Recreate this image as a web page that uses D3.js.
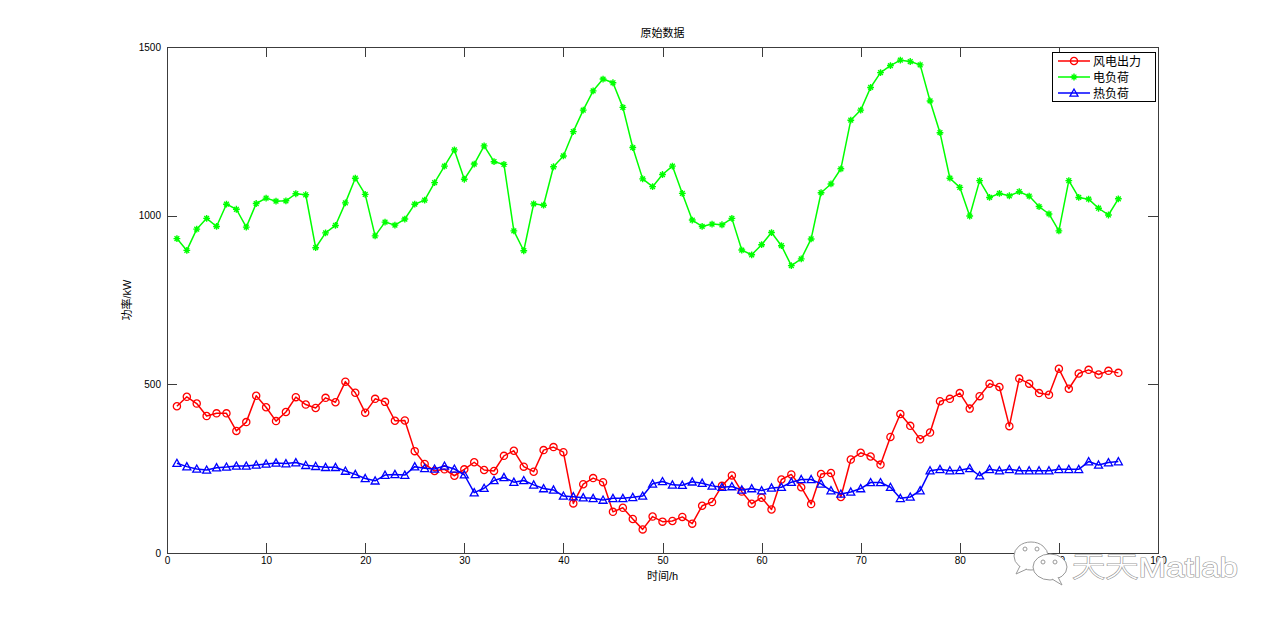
<!DOCTYPE html>
<html>
<head>
<meta charset="utf-8">
<script src="https://cdn.jsdelivr.net/npm/d3@7/dist/d3.min.js"></script>
<style>
  html, body { margin: 0; padding: 0; background: #ffffff; }
  svg { display: block; }
  text { font-family: "Liberation Sans", Arial, "Noto Sans CJK SC", sans-serif; }
</style>
</head>
<body>
<svg id="chart" width="1280" height="621"></svg>
<script>
// ---------------- data ----------------
const titleText = "原始数据";
const xLabel = "时间/h";
const yLabel = "功率/kW";
const seriesNames = ["风电出力", "电负荷", "热负荷"];
const xTicks = [0, 10, 20, 30, 40, 50, 60, 70, 80, 90, 100];
const yTicks = [0, 500, 1000, 1500];

const windPower = [435, 463, 443, 406, 414, 414, 362, 388, 466, 432, 391, 418, 462, 440, 430, 460, 447, 508, 475, 416,
  457, 448, 392, 393, 302, 264, 243, 248, 229, 248, 269, 246, 243, 288, 303, 256, 241, 305, 314, 299,
  147, 204, 222, 210, 122, 134, 101, 70, 108, 93, 95, 107, 87, 140, 151, 199, 230, 182, 146, 164,
  129, 218, 233, 195, 145, 234, 237, 166, 277, 297, 286, 262, 344, 412, 377, 337, 357, 450, 457, 474,
  428, 465, 502, 492, 376, 517, 502, 474, 469, 546, 487, 532, 543, 529, 540, 534];

const elecLoad = [932, 897, 960, 992, 968, 1034, 1019, 966, 1036, 1052, 1043, 1044, 1065, 1062, 905, 949, 971, 1038, 1111, 1063,
  940, 981, 972, 990, 1034, 1046, 1098, 1147, 1195, 1108, 1153, 1207, 1160, 1152, 955, 896, 1035, 1031, 1145, 1177,
  1249, 1313, 1370, 1405, 1394, 1321, 1202, 1109, 1086, 1122, 1147, 1066, 987, 968, 975, 973, 992, 898, 884, 914,
  950, 911, 852, 872, 931, 1068, 1094, 1139, 1283, 1313, 1380, 1424, 1445, 1461, 1457, 1447, 1340, 1246, 1111, 1084,
  999, 1104, 1054, 1066, 1059, 1071, 1058, 1027, 1005, 955, 1104, 1054, 1049, 1022, 1002, 1050];

const heatLoad = [266, 256, 249, 246, 253, 255, 258, 258, 261, 264, 267, 265, 268, 260, 257, 254, 254, 243, 233, 221,
  214, 231, 233, 231, 256, 251, 249, 258, 249, 232, 179, 192, 215, 224, 210, 215, 202, 191, 187, 169,
  167, 164, 162, 157, 162, 162, 165, 169, 205, 212, 202, 201, 211, 207, 199, 195, 197, 187, 191, 185,
  193, 195, 210, 218, 218, 205, 185, 175, 181, 191, 209, 209, 195, 162, 166, 185, 244, 248, 244, 245,
  251, 229, 248, 244, 248, 244, 244, 244, 244, 248, 248, 248, 271, 261, 268, 271];

const seriesColors = ["#ff0000", "#00ff00", "#0000ff"];
const seriesMarkers = ["circle", "star", "triangle"];

// ---------------- layout ----------------
const svg = d3.select("#chart");
const L = 167, R = 1158, T = 47, B = 553;
const axisColor = "#3c3c3c";

const x = d3.scaleLinear().domain([0, 100]).range([L, R]);
const y = d3.scaleLinear().domain([0, 1500]).range([B, T]);

// axes box
const g = svg.append("g");
g.append("rect").attr("x", L).attr("y", T).attr("width", R - L).attr("height", B - T)
  .attr("fill", "#ffffff").attr("stroke", axisColor).attr("stroke-width", 1)
  .attr("shape-rendering", "crispEdges");

const xAxisB = d3.axisBottom(x).tickValues(xTicks).tickSize(-10).tickPadding(4).tickFormat(d3.format("d"));
const gxb = g.append("g").attr("transform", `translate(0,${B})`).call(xAxisB);
const xAxisT = d3.axisTop(x).tickValues(xTicks).tickSize(-10).tickFormat("");
const gxt = g.append("g").attr("transform", `translate(0,${T})`).call(xAxisT);
const yAxisL = d3.axisLeft(y).tickValues(yTicks).tickSize(-10).tickPadding(6).tickFormat(d3.format("d"));
const gyl = g.append("g").attr("transform", `translate(${L},0)`).call(yAxisL);
const yAxisR = d3.axisRight(y).tickValues(yTicks).tickSize(-10).tickFormat("");
const gyr = g.append("g").attr("transform", `translate(${R},0)`).call(yAxisR);

[gxb, gxt, gyl, gyr].forEach(a => {
  a.select(".domain").remove();
  a.selectAll(".tick line").attr("stroke", axisColor).attr("shape-rendering", "crispEdges");
  a.selectAll(".tick text").attr("fill", "#000").attr("font-size", "10px")
    .attr("font-family", "Liberation Sans, Arial, sans-serif");
});
gyl.selectAll(".tick text").attr("dy", "0.32em");

svg.append("text").attr("x", (L + R) / 2).attr("y", 37).attr("text-anchor", "middle")
  .attr("font-size", "11px").attr("font-family", "Noto Sans CJK SC, sans-serif").text(titleText);
svg.append("text").attr("x", (L + R) / 2).attr("y", 580).attr("text-anchor", "middle")
  .attr("font-size", "11px").attr("font-family", "Noto Sans CJK SC, sans-serif").text(xLabel);
svg.append("text").attr("transform", `translate(131,${(T + B) / 2}) rotate(-90)`).attr("text-anchor", "middle")
  .attr("font-size", "11px").attr("font-family", "Noto Sans CJK SC, sans-serif").text(yLabel);

// ---------------- series ----------------
const allSeries = [windPower, elecLoad, heatLoad];

function drawMarker(sel, type, color) {
  if (type === "circle") {
    sel.append("circle").attr("r", 3.6).attr("fill", "none").attr("stroke", color).attr("stroke-width", 1.3);
  } else if (type === "star") {
    const s = 3.4;
    sel.append("path")
      .attr("d", `M${-s},0L${s},0M0,${-s}L0,${s}M${-s*0.7},${-s*0.7}L${s*0.7},${s*0.7}M${-s*0.7},${s*0.7}L${s*0.7},${-s*0.7}`)
      .attr("stroke", color).attr("stroke-width", 1.4).attr("fill", "none");
  } else {
    const s = 4;
    sel.append("path").attr("d", `M0,${-s}L${s},${s*0.8}L${-s},${s*0.8}Z`)
      .attr("fill", "none").attr("stroke", color).attr("stroke-width", 1.3);
  }
}

const line = d3.line().x((d, i) => x(i + 1)).y(d => y(d));

allSeries.forEach((vals, k) => {
  const sg = svg.append("g");
  sg.append("path").datum(vals).attr("d", line).attr("fill", "none")
    .attr("stroke", seriesColors[k]).attr("stroke-width", 1.5).attr("stroke-linejoin", "round");
  const pts = sg.selectAll("g.pt").data(vals).enter().append("g").attr("class", "pt")
    .attr("transform", (d, i) => `translate(${x(i + 1)},${y(d)})`);
  pts.each(function () { drawMarker(d3.select(this), seriesMarkers[k], seriesColors[k]); });
});

// ---------------- legend ----------------
const lg = svg.append("g");
const lgX = 1052, lgY = 52, lgW = 103, lgH = 49;
lg.append("rect").attr("x", lgX + 0.5).attr("y", lgY + 0.5).attr("width", lgW).attr("height", lgH)
  .attr("fill", "#fff").attr("stroke", "#000").attr("stroke-width", 1);
seriesNames.forEach((name, k) => {
  const ry = lgY + 9 + k * 16;
  const row = lg.append("g");
  row.append("line").attr("x1", lgX + 6).attr("x2", lgX + 38).attr("y1", ry).attr("y2", ry)
    .attr("stroke", seriesColors[k]).attr("stroke-width", 1.5);
  const m = row.append("g").attr("transform", `translate(${lgX + 22},${ry})`);
  drawMarker(m, seriesMarkers[k], seriesColors[k]);
  row.append("text").attr("x", lgX + 41).attr("y", ry + 4.5).attr("font-size", "12px")
    .attr("font-family", "Noto Sans CJK SC, sans-serif").text(name);
});

// ---------------- watermark ----------------
const wm = svg.append("g");
wm.append("ellipse").attr("cx", 1031).attr("cy", 556).attr("rx", 17).attr("ry", 14)
  .attr("fill", "#fff").attr("stroke", "#999").attr("stroke-width", 1);
wm.append("path").attr("d", "M1020,566 L1016,574 L1027,569").attr("fill", "#fff").attr("stroke", "#999");
wm.append("circle").attr("cx", 1025).attr("cy", 549).attr("r", 2).attr("fill", "#fff").attr("stroke", "#999");
wm.append("circle").attr("cx", 1037).attr("cy", 549).attr("r", 2).attr("fill", "#fff").attr("stroke", "#999");
wm.append("ellipse").attr("cx", 1050).attr("cy", 567).attr("rx", 17).attr("ry", 13)
  .attr("fill", "#fff").attr("stroke", "#999").attr("stroke-width", 1);
wm.append("path").attr("d", "M1058,577 L1062,585 L1052,579").attr("fill", "#fff").attr("stroke", "#999");
wm.append("circle").attr("cx", 1043).attr("cy", 562).attr("r", 2).attr("fill", "#fff").attr("stroke", "#999");
wm.append("circle").attr("cx", 1055).attr("cy", 562).attr("r", 2).attr("fill", "#fff").attr("stroke", "#999");
wm.append("text").attr("x", 1072).attr("y", 577).attr("font-size", "28px")
  .attr("font-family", "Noto Sans CJK SC, sans-serif").attr("font-weight", 300)
  .attr("textLength", 166).attr("lengthAdjust", "spacingAndGlyphs")
  .attr("fill", "#ffffff").attr("stroke", "#9a9a9a").attr("stroke-width", 1.2)
  .attr("paint-order", "stroke").text("天天Matlab");
</script>
</body>
</html>
